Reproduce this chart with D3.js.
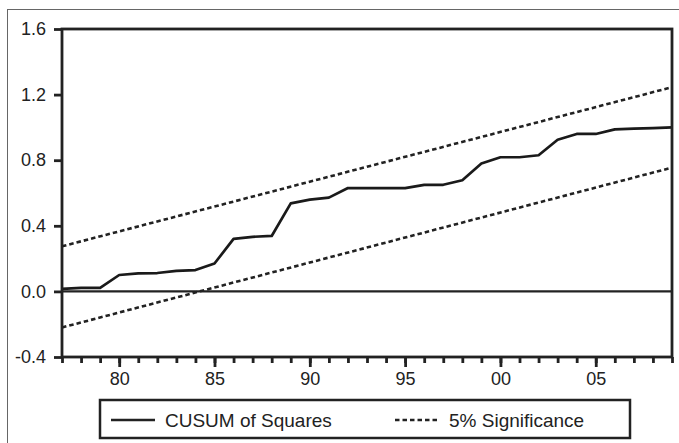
<!DOCTYPE html>
<html>
    <head>
        <meta charset="utf-8">
        <script src="https://d3js.org/d3.v7.min.js"></script>
        <style>
            body {
  margin: 0;
  padding: 0;
  background: #fff;
}
        text {
            font-family: "Liberation Sans", Arial, sans-serif;
            fill: #222;
        }
        </style>
    </head>
    <body onload='init()'>
    </body>
    <script>
        // years on the x axis
        var years = [1977, 1978, 1979, 1980, 1981, 1982, 1983, 1984, 1985, 1986, 1987,
                     1988, 1989, 1990, 1991, 1992, 1993, 1994, 1995, 1996, 1997, 1998,
                     1999, 2000, 2001, 2002, 2003, 2004, 2005, 2006, 2007, 2008, 2009];

        // CUSUM of squares
        var cusumSq = [0.015, 0.022, 0.022, 0.100, 0.110, 0.112, 0.125, 0.130, 0.170, 0.320, 0.333,
                       0.338, 0.537, 0.560, 0.572, 0.630, 0.630, 0.630, 0.630, 0.650, 0.650, 0.678,
                       0.780, 0.818, 0.818, 0.830, 0.925, 0.960, 0.960, 0.988, 0.992, 0.996, 1.000];

        // 5% significance bounds (straight lines, end points)
        var bandYears = [1977, 2009];
        var upperBand = [0.275, 1.245];
        var lowerBand = [-0.220, 0.755];

        var yTicks = [-0.4, 0.0, 0.4, 0.8, 1.2, 1.6];
        var majorYears = [1980, 1985, 1990, 1995, 2000, 2005];

        var legendLabels = ["CUSUM of Squares", "5% Significance"];

        function init() {
            var width = 679,
            height = 443;

            var svg = d3.select("body").append("svg")
                .attr("width", width)
                .attr("height", height);

            // outer frame
            svg.append("rect")
                .attr("x", 7.5)
                .attr("y", 9.5)
                .attr("width", 700)
                .attr("height", 500)
                .attr("fill", "none")
                .attr("stroke", "#666")
                .attr("stroke-width", 1);

            var x = d3.scaleLinear().domain([1977, 2009]).range([62, 672]),
            y = d3.scaleLinear().domain([-0.4, 1.6]).range([357, 29]);

            // y axis
            var yAxis = d3.axisLeft(y)
                .tickValues(yTicks)
                .tickSize(8)
                .tickPadding(8)
                .tickFormat(d => d3.format(".1f")(d).replace("\u2212", "-"));

            var gy = svg.append("g")
                .attr("transform", "translate(" + x.range()[0] + ",0)")
                .call(yAxis);
            gy.select(".domain").remove();
            gy.selectAll("line").attr("stroke", "#222").attr("stroke-width", 2.8);
            gy.selectAll("text")
                .attr("font-size", 18)
                .style("font-family", "'Liberation Sans', Arial, sans-serif")
                .attr("fill", "#222");

            // x axis, minor ticks every year
            var xMinor = d3.axisBottom(x)
                .tickValues(years)
                .tickSize(6)
                .tickFormat("");
            var gxm = svg.append("g")
                .attr("transform", "translate(0," + y.range()[0] + ")")
                .call(xMinor);
            gxm.select(".domain").remove();
            gxm.selectAll("line").attr("stroke", "#222").attr("stroke-width", 2.8);

            var xMajor = d3.axisBottom(x)
                .tickValues(majorYears)
                .tickSize(10)
                .tickPadding(5)
                .tickFormat(d => d3.format("02d")(d % 100));
            var gx = svg.append("g")
                .attr("transform", "translate(0," + y.range()[0] + ")")
                .call(xMajor);
            gx.select(".domain").remove();
            gx.selectAll("line").attr("stroke", "#222").attr("stroke-width", 2.8);
            gx.selectAll("text")
                .attr("font-size", 18)
                .style("font-family", "'Liberation Sans', Arial, sans-serif")
                .attr("fill", "#222");

            // zero line
            svg.append("line")
                .attr("x1", x.range()[0])
                .attr("x2", x.range()[1])
                .attr("y1", y(0))
                .attr("y2", y(0))
                .attr("stroke", "#222")
                .attr("stroke-width", 2.4);

            var line = d3.line()
                .x(d => x(d[0]))
                .y(d => y(d[1]));

            // significance bounds
            [upperBand, lowerBand].forEach(b => {
                svg.append("path")
                    .datum(bandYears.map((yr, i) => [yr, b[i]]))
                    .attr("d", line)
                    .attr("fill", "none")
                    .attr("stroke", "#222")
                    .attr("stroke-width", 2.6)
                    .attr("stroke-dasharray", "4.5,3");
            });

            // cusum of squares
            svg.append("path")
                .datum(years.map((yr, i) => [yr, cusumSq[i]]))
                .attr("d", line)
                .attr("fill", "none")
                .attr("stroke", "#1a1a1a")
                .attr("stroke-width", 2.7)
                .attr("stroke-linejoin", "round");

            // plot frame
            svg.append("rect")
                .attr("x", x.range()[0])
                .attr("y", y.range()[1])
                .attr("width", x.range()[1] - x.range()[0])
                .attr("height", y.range()[0] - y.range()[1])
                .attr("fill", "none")
                .attr("stroke", "#222")
                .attr("stroke-width", 2.8);

            // legend
            var lg = svg.append("g");
            lg.append("rect")
                .attr("x", 100)
                .attr("y", 400)
                .attr("width", 530)
                .attr("height", 38)
                .attr("fill", "#fff")
                .attr("stroke", "#222")
                .attr("stroke-width", 2.5);

            var items = [
                {label: legendLabels[0], x1: 111, x2: 155, tx: 165, dash: null},
                {label: legendLabels[1], x1: 395, x2: 440, tx: 449, dash: "4.5,3"}
            ];
            items.forEach(it => {
                lg.append("line")
                    .attr("x1", it.x1)
                    .attr("x2", it.x2)
                    .attr("y1", 420)
                    .attr("y2", 420)
                    .attr("stroke", "#222")
                    .attr("stroke-width", 2.4)
                    .attr("stroke-dasharray", it.dash);
                lg.append("text")
                    .attr("x", it.tx)
                    .attr("y", 427)
                    .attr("font-size", 19)
                    .text(it.label);
            });
        }
    </script>
</html>
